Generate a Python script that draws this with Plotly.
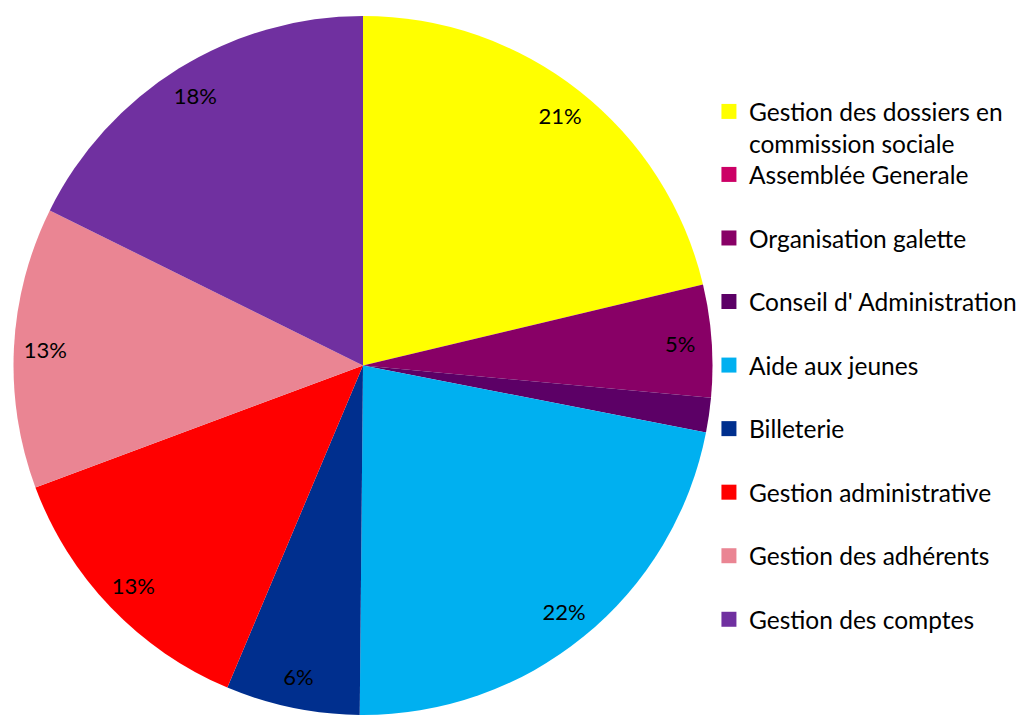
import plotly.graph_objects as go

categories = [
    "Gestion des dossiers en<br>commission sociale",
    "Assemblée Generale",
    "Organisation galette",
    "Conseil d' Administration",
    "Aide aux jeunes",
    "Billeterie",
    "Gestion administrative",
    "Gestion des adhérents",
    "Gestion des comptes",
]
values = [21.3, 0.0, 5.2, 1.6, 22.1, 6.2, 13.0, 13.0, 17.7]
colors = ["#FFFF00", "#CC0066", "#880066", "#5C0066", "#00B0F0",
          "#002F8E", "#FF0000", "#EA8593", "#7030A0"]

total = sum(values)
labels_txt = [f"{round(v / total * 100)}%" if v / total >= 0.03 else "" for v in values]

FONT = "Lato"
W, H = 1023, 715
dom_x = [13 / W, 713 / W]
dom_y = [0.0, 1 - 16 / H]

fig = go.Figure()

# filled pie
fig.add_trace(go.Pie(
    labels=categories, values=values, sort=False, direction="clockwise", rotation=0,
    marker=dict(colors=colors, line=dict(width=0)),
    textinfo="none", showlegend=False, hoverinfo="label+percent",
    domain=dict(x=dom_x, y=dom_y),
))

# transparent ring carrying the percentage labels near the outer edge
fig.add_trace(go.Pie(
    labels=categories, values=values, sort=False, direction="clockwise", rotation=0,
    hole=0.82,
    marker=dict(colors=["rgba(0,0,0,0)"] * len(values), line=dict(width=0)),
    text=labels_txt, textinfo="text", textposition="inside",
    insidetextorientation="horizontal",
    textfont=dict(family=FONT, size=22, color="black"),
    showlegend=False, hoverinfo="skip",
    domain=dict(x=dom_x, y=dom_y),
))

# legend entries (first one in its own legend so its second line does not push the rest)
for i, (cat, col) in enumerate(zip(categories, colors)):
    fig.add_trace(go.Scatter(
        x=[None], y=[None], mode="markers", name=cat,
        marker=dict(symbol="square", size=15, color=col),
        legendgroup=f"g{i}", showlegend=True,
        legend="legend" if i == 0 else "legend2",
    ))

leg_common = dict(
    xanchor="left", yanchor="top",
    font=dict(family=FONT, size=24.5, color="black"),
    valign="top", bgcolor="rgba(0,0,0,0)",
)

fig.update_layout(
    width=W, height=H,
    margin=dict(l=0, r=0, t=0, b=0),
    paper_bgcolor="white", plot_bgcolor="white",
    xaxis=dict(visible=False), yaxis=dict(visible=False),
    legend=dict(x=0.693, y=1 - 89 / H, **leg_common),
    legend2=dict(x=0.693, y=1 - 152 / H, tracegroupgap=28.7, **leg_common),
)

fig.write_html("out.html", config={"displayModeBar": False},
               post_script="document.body.style.margin='0';")
